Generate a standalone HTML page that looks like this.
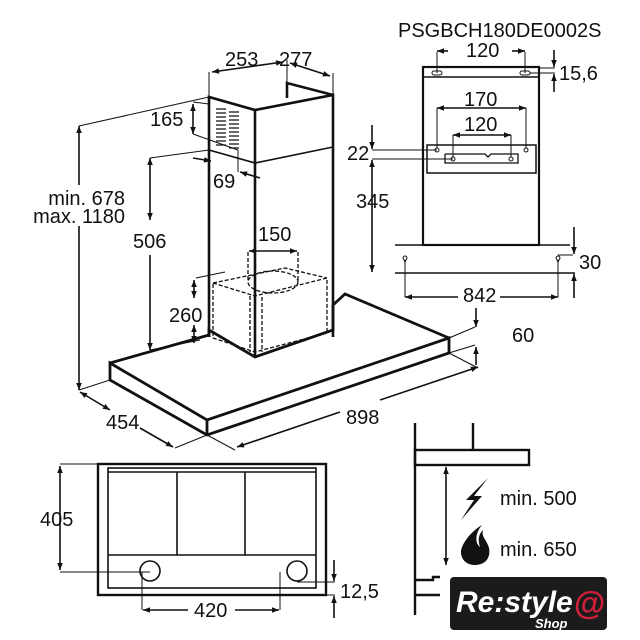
<!DOCTYPE html>
<html><head><meta charset="utf-8"><style>
html,body{margin:0;padding:0;background:#fff;}
svg{display:block;}
text{font-family:"Liberation Sans",Arial,sans-serif;fill:#111;}
</style></head><body>
<svg width="640" height="640" viewBox="0 0 640 640" xmlns="http://www.w3.org/2000/svg">
<defs>
<marker id="a" viewBox="0 0 10 10" refX="10" refY="5" markerWidth="9" markerHeight="7" orient="auto-start-reverse" markerUnits="userSpaceOnUse"><path d="M0,1 L10,5 L0,9 Z" fill="#111"/></marker>
</defs>
<g stroke="#111" fill="none">
<g stroke-width="2.6">
<polyline points="209,337 209,97 255,110 333,95 333,337"/>
<line x1="255" y1="110" x2="255" y2="357"/>
<polyline points="287,98 287,83 333,95"/>
</g>
<polyline stroke-width="1.6" points="209,150 255,163 333,147"/>
<g stroke-width="1.3">
<path d="M216,109h10M216,113h10M216,117h10M216,121h10M216,125h10M216,129h10M216,133h10M216,137h10M216,141h10M216,145h10M229,112h10M229,116h10M229,120h10M229,124h10M229,128h10M229,132h10M229,136h10M229,140h10M229,144h10M229,148h10"/>
</g>
<g stroke-width="2.8">
<polygon points="110,363 207,420 449,338 449,353 207,435 110,380"/>
<line x1="207" y1="420" x2="207" y2="435"/>
<polyline points="110,363 209,335"/>
<polyline points="333,305 345,294 449,338"/>
<polyline points="209,337 209,330 255,357 333,330 333,305"/>
</g>
<g stroke-width="1.3" stroke-dasharray="4,2">
<polyline points="213,283 255,296 327,278 327,333 255,352 213,338 213,283"/>
<polyline points="213,283 285,268 327,278"/>
<line x1="250" y1="296" x2="250" y2="352"/>
<line x1="262" y1="297" x2="262" y2="352"/>
<ellipse cx="273" cy="282" rx="25" ry="11"/>
<line x1="248" y1="252" x2="248" y2="282"/>
<line x1="298" y1="252" x2="298" y2="282"/>
</g>
<g stroke-width="1">
<line x1="79" y1="126" x2="209" y2="97"/>
<line x1="79" y1="390" x2="110" y2="380"/>
<line x1="150" y1="158" x2="209" y2="150"/>
<line x1="150" y1="350" x2="200" y2="340"/>
<line x1="196" y1="278" x2="225" y2="272"/>
<line x1="193" y1="102" x2="209" y2="104"/>
<line x1="193" y1="134" x2="238" y2="150"/>
<line x1="209" y1="97" x2="209" y2="72"/>
<line x1="287" y1="83" x2="287" y2="60"/>
<line x1="333" y1="95" x2="333" y2="73"/>
<line x1="238" y1="150" x2="238" y2="172"/>
<line x1="207" y1="435" x2="175" y2="448"/>
<line x1="207" y1="435" x2="235" y2="450"/>
<line x1="449" y1="353" x2="478" y2="368"/>
<line x1="449" y1="338" x2="475" y2="327"/>
<line x1="449" y1="353" x2="475" y2="345"/>
</g>
<g stroke-width="1.6" marker-start="url(#a)" marker-end="url(#a)">
<line x1="150" y1="158" x2="150" y2="220"/>
<line x1="194" y1="280" x2="194" y2="298"/>
<line x1="194" y1="325" x2="194" y2="343"/>
<line x1="193" y1="104" x2="193" y2="134"/>
<line x1="212" y1="72" x2="283" y2="62"/>
<line x1="290" y1="63" x2="330" y2="76"/>
<line x1="249" y1="251" x2="297" y2="251"/>
<line x1="80" y1="392" x2="110" y2="410"/>
</g>
<g stroke-width="1.6">
<line x1="79" y1="185" x2="79" y2="126" marker-end="url(#a)"/>
<line x1="79" y1="226" x2="79" y2="390" marker-end="url(#a)"/>
<line x1="150" y1="255" x2="150" y2="350" marker-end="url(#a)"/>
<line x1="140" y1="428" x2="173" y2="447" marker-end="url(#a)"/>
<line x1="340" y1="412" x2="237" y2="447" marker-end="url(#a)"/>
<line x1="380" y1="400" x2="478" y2="367" marker-end="url(#a)"/>
<line x1="193" y1="158" x2="211" y2="161" marker-end="url(#a)"/>
<line x1="260" y1="178" x2="240" y2="172" marker-end="url(#a)"/>
<line x1="476" y1="308" x2="476" y2="327" marker-end="url(#a)"/>
<line x1="476" y1="365" x2="476" y2="347" marker-end="url(#a)"/>
</g>
<g stroke-width="2.2">
<rect x="423" y="67" width="116" height="178"/>
<line x1="423" y1="77" x2="539" y2="77" stroke-width="1.5"/>
<rect x="427" y="145" width="109" height="28" stroke-width="1.5"/>
<polyline stroke-width="1.3" points="445,154 485,154 488,157 491,154 518,154 518,163 445,163 445,154"/>
</g>
<g stroke-width="1">
<line x1="395" y1="245" x2="570" y2="245" stroke-width="1.6"/>
<line x1="395" y1="273" x2="575" y2="273" stroke-width="1.6"/>
<rect x="432" y="71" width="10" height="4" rx="2"/>
<rect x="520" y="71" width="10" height="4" rx="2"/>
<circle cx="437" cy="150" r="2"/><circle cx="526" cy="150" r="2"/>
<circle cx="453" cy="159" r="2"/><circle cx="511" cy="159" r="2"/>
<line x1="437" y1="73" x2="437" y2="52"/><line x1="525" y1="73" x2="525" y2="52"/>
<line x1="437" y1="148" x2="437" y2="108"/><line x1="526" y1="148" x2="526" y2="108"/>
<line x1="453" y1="157" x2="453" y2="135"/><line x1="511" y1="157" x2="511" y2="135"/>
<line x1="372" y1="150" x2="437" y2="150"/><line x1="372" y1="159" x2="453" y2="159"/>
<line x1="539" y1="68" x2="555" y2="68"/><line x1="530" y1="73" x2="555" y2="73"/>
<line x1="405" y1="260" x2="405" y2="297"/><line x1="558" y1="260" x2="558" y2="297"/>
<line x1="558" y1="255" x2="573" y2="255"/>
<path d="M403,258 a2,2 0 1,1 4,0 l-2,4z M556,258 a2,2 0 1,1 4,0 l-2,4z"/>
</g>
<g stroke-width="1.6">
<line x1="448" y1="51" x2="437" y2="51" marker-end="url(#a)"/>
<line x1="512" y1="51" x2="525" y2="51" marker-end="url(#a)"/>
<line x1="554" y1="50" x2="554" y2="67" marker-end="url(#a)"/>
<line x1="554" y1="92" x2="554" y2="74" marker-end="url(#a)"/>
<line x1="437" y1="108" x2="526" y2="108" marker-start="url(#a)" marker-end="url(#a)"/>
<line x1="453" y1="135" x2="511" y2="135" marker-start="url(#a)" marker-end="url(#a)"/>
<line x1="372" y1="125" x2="372" y2="149" marker-end="url(#a)"/>
<line x1="372" y1="160" x2="372" y2="272" marker-start="url(#a)" marker-end="url(#a)"/>
<line x1="574" y1="227" x2="574" y2="254" marker-end="url(#a)"/>
<line x1="574" y1="298" x2="574" y2="274" marker-end="url(#a)"/>
<line x1="458" y1="297" x2="405" y2="297" marker-end="url(#a)"/>
<line x1="500" y1="297" x2="558" y2="297" marker-end="url(#a)"/>
</g>
<g stroke-width="2.4">
<rect x="98" y="464" width="228" height="131"/>
</g>
<g stroke-width="1.6">
<rect x="108" y="468" width="208" height="120"/>
<line x1="108" y1="472" x2="316" y2="472"/>
<line x1="108" y1="555" x2="316" y2="555"/>
<line x1="177" y1="472" x2="177" y2="555"/>
<line x1="245" y1="472" x2="245" y2="555"/>
<circle cx="150" cy="571" r="10"/><circle cx="297" cy="571" r="10"/>
</g>
<g stroke-width="1">
<line x1="60" y1="464" x2="98" y2="464"/>
<line x1="60" y1="572" x2="150" y2="572"/>
<line x1="142" y1="572" x2="142" y2="610"/>
<line x1="280" y1="572" x2="280" y2="610"/>
<line x1="297" y1="582" x2="335" y2="582"/>
<line x1="326" y1="595" x2="335" y2="595"/>
</g>
<g stroke-width="1.6">
<line x1="60" y1="466" x2="60" y2="570" marker-start="url(#a)" marker-end="url(#a)"/>
<line x1="188" y1="610" x2="143" y2="610" marker-end="url(#a)"/>
<line x1="235" y1="610" x2="279" y2="610" marker-end="url(#a)"/>
<line x1="334" y1="560" x2="334" y2="581" marker-end="url(#a)"/>
<line x1="334" y1="618" x2="334" y2="596" marker-end="url(#a)"/>
</g>
<g stroke-width="2.4">
<line x1="415" y1="423" x2="415" y2="615"/>
<line x1="473" y1="423" x2="473" y2="450"/>
<rect x="415" y="450" width="114" height="15"/>
<polyline points="415,580 433,580 433,577 440,577"/>
<line x1="415" y1="595" x2="440" y2="595"/>
</g>
<line x1="446" y1="467" x2="446" y2="565" stroke-width="1.6" marker-start="url(#a)" marker-end="url(#a)"/>
</g>
<path d="M488,478 L466,500 L474,500 L461,520 L482,496 L474,496 Z" fill="#111"/>
<path d="M482,525 C470,532 461,545 461,552 C461,560 467,565 475,565 C485,565 491,558 489,548 C487,540 481,537 483,530 C478,535 478,540 480,547 C474,542 476,532 482,525 Z" fill="#111"/>
<rect x="450" y="577" width="157" height="53" rx="4" fill="#1b1b1b"/>
<text x="456" y="612" font-size="30" font-style="italic" font-weight="bold" style="fill:#fff">Re:style</text>
<text x="535" y="628" font-size="13" font-style="italic" font-weight="bold" style="fill:#fff">Shop</text>
<text x="574" y="614" font-size="32" font-weight="bold" style="fill:#d0203a">@</text>
<g font-size="20">
<text x="398" y="37">PSGBCH180DE0002S</text>
<text x="225" y="66">253</text>
<text x="279" y="66">277</text>
<text x="150" y="126">165</text>
<text x="213" y="188">69</text>
<text x="125" y="205" text-anchor="end">min. 678</text>
<text x="125" y="223" text-anchor="end">max. 1180</text>
<text x="133" y="248">506</text>
<text x="258" y="241">150</text>
<text x="169" y="322">260</text>
<text x="106" y="429">454</text>
<text x="346" y="424">898</text>
<text x="512" y="342">60</text>
<text x="466" y="57">120</text>
<text x="559" y="80">15,6</text>
<text x="464" y="106">170</text>
<text x="464" y="131">120</text>
<text x="347" y="160">22</text>
<text x="356" y="208">345</text>
<text x="579" y="269">30</text>
<text x="463" y="302">842</text>
<text x="40" y="526">405</text>
<text x="194" y="617">420</text>
<text x="340" y="598">12,5</text>
<text x="500" y="505">min. 500</text>
<text x="500" y="556">min. 650</text>
</g>
</svg>
</body></html>
